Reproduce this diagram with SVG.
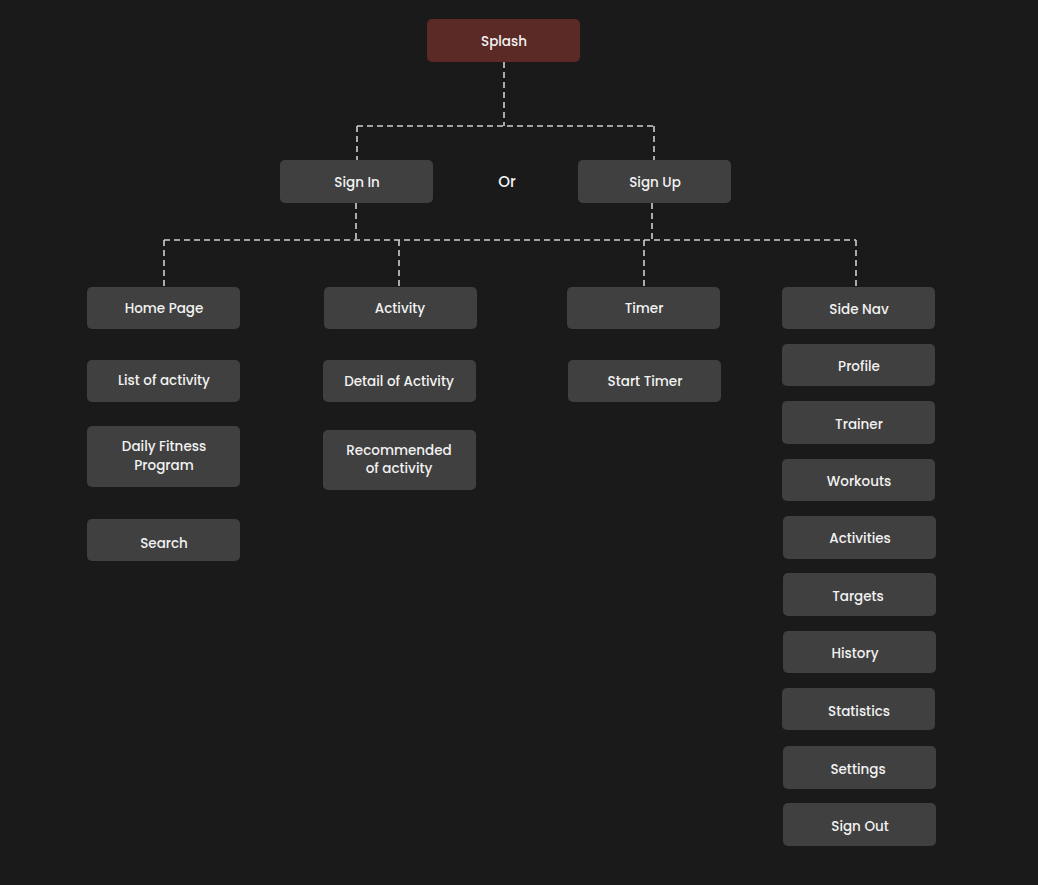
<svg xmlns="http://www.w3.org/2000/svg" width="1038" height="885" viewBox="0 0 1038 885">
<style>
.n{fill:#404040}
.s{fill:#5b2a27}
.t{font-family:Poppins,Inter,"Open Sans","Liberation Sans",sans-serif;font-size:13.5px;font-weight:500;fill:#f2f2f2;text-anchor:middle;dominant-baseline:central}
.c{fill:none;stroke:#cfcfcf;stroke-width:1.6;stroke-dasharray:6 4}
</style>
<rect width="1038" height="885" fill="#1a1a1a"/>
<g id="connectors">
<path class="c" d="M504 62V126M357 126H654M357 126V160M654 126V160"/>
<path class="c" d="M356 203V240M652 203V240M164 240H856M164 240V287M399 240V287M644 240V287M856 240V287"/>
</g>
<g id="splash"><rect class="s" x="427" y="19" width="153" height="43" rx="5"/><text class="t" x="504" y="41">Splash</text></g>
<g id="signin"><rect class="n" x="280" y="160" width="153" height="43" rx="5"/><text class="t" x="357" y="182">Sign In</text></g>
<g id="or"><text class="t" x="507" y="181" style="font-size:15px">Or</text></g>
<g id="signup"><rect class="n" x="578" y="160" width="153" height="43" rx="5"/><text class="t" x="655" y="182">Sign Up</text></g>
<g id="home"><rect class="n" x="87" y="287" width="153" height="42" rx="5"/><text class="t" x="164" y="308">Home Page</text></g>
<g id="activity"><rect class="n" x="324" y="287" width="153" height="42" rx="5"/><text class="t" x="400" y="308">Activity</text></g>
<g id="timer"><rect class="n" x="567" y="287" width="153" height="42" rx="5"/><text class="t" x="644" y="308">Timer</text></g>
<g id="sidenav"><rect class="n" x="782" y="287" width="153" height="42" rx="5"/><text class="t" x="859" y="309">Side Nav</text></g>
<g id="listactivity"><rect class="n" x="87" y="360" width="153" height="42" rx="5"/><text class="t" x="164" y="380">List of activity</text></g>
<g id="detail"><rect class="n" x="323" y="360" width="153" height="42" rx="5"/><text class="t" x="399" y="381">Detail of Activity</text></g>
<g id="starttimer"><rect class="n" x="568" y="360" width="153" height="42" rx="5"/><text class="t" x="645" y="381">Start Timer</text></g>
<g id="daily"><rect class="n" x="87" y="426" width="153" height="61" rx="5"/><text class="t" x="164" y="446">Daily Fitness</text><text class="t" x="164" y="465">Program</text></g>
<g id="recommended"><rect class="n" x="323" y="430" width="153" height="60" rx="5"/><text class="t" x="399" y="450">Recommended</text><text class="t" x="399" y="468">of activity</text></g>
<g id="search"><rect class="n" x="87" y="519" width="153" height="42" rx="5"/><text class="t" x="164" y="543">Search</text></g>
<g id="profile"><rect class="n" x="782" y="344" width="153" height="42" rx="5"/><text class="t" x="859" y="366">Profile</text></g>
<g id="trainer"><rect class="n" x="782" y="401" width="153" height="43" rx="5"/><text class="t" x="859" y="424">Trainer</text></g>
<g id="workouts"><rect class="n" x="782" y="459" width="153" height="42" rx="5"/><text class="t" x="859" y="481">Workouts</text></g>
<g id="activities"><rect class="n" x="783" y="516" width="153" height="43" rx="5"/><text class="t" x="860" y="538">Activities</text></g>
<g id="targets"><rect class="n" x="783" y="573" width="153" height="43" rx="5"/><text class="t" x="858" y="596">Targets</text></g>
<g id="history"><rect class="n" x="783" y="631" width="153" height="42" rx="5"/><text class="t" x="855" y="653">History</text></g>
<g id="statistics"><rect class="n" x="782" y="688" width="153" height="42" rx="5"/><text class="t" x="859" y="711">Statistics</text></g>
<g id="settings"><rect class="n" x="783" y="746" width="153" height="43" rx="5"/><text class="t" x="858" y="769">Settings</text></g>
<g id="signout"><rect class="n" x="783" y="803" width="153" height="43" rx="5"/><text class="t" x="860" y="826">Sign Out</text></g>
</svg>
